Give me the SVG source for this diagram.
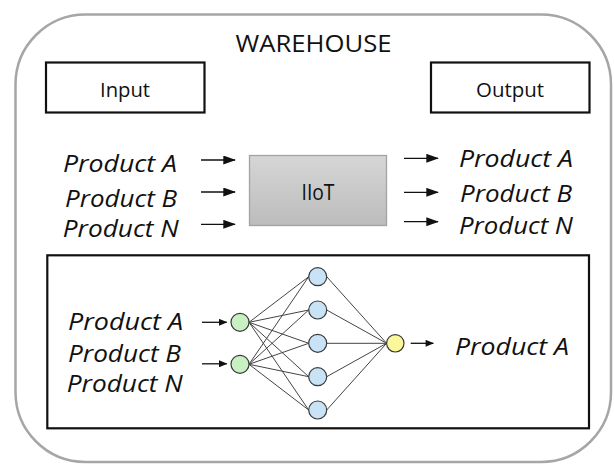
<svg xmlns="http://www.w3.org/2000/svg" width="614" height="464" viewBox="0 0 614 464">
  <defs>
    <style>
      .frame { fill: #ffffff; stroke: #a6a6a6; stroke-width: 2.5; }
      .box { fill: #ffffff; stroke: #111111; stroke-width: 2.2; }
      .label { font-family: "Open Sans", "Liberation Sans", sans-serif; fill: #111111; }
      .prod { font-family: "Open Sans", "Liberation Sans", sans-serif; font-style: italic; font-size: 23px; fill: #111111; }
      .flow { stroke: #111111; stroke-width: 1.3; fill: none; }
      .edge { stroke: #444444; stroke-width: 1; fill: none; }
      .node { stroke: #3a3a3a; stroke-width: 1.2; }
      .in { fill: #c8f0c2; }
      .hid { fill: #c8e3f6; }
      .out { fill: #fbf79a; }
    </style>
    <linearGradient id="iiotFill" x1="0" y1="0" x2="0" y2="1">
      <stop offset="0" stop-color="#d6d6d6"/>
      <stop offset="1" stop-color="#bcbcbc"/>
    </linearGradient>
    <marker id="head" viewBox="0 0 14 10" refX="13" refY="5" markerWidth="14" markerHeight="9" markerUnits="userSpaceOnUse" orient="auto">
      <path d="M0,0 L14,5 L0,10 z" fill="#111111"/>
    </marker>
    <marker id="headSm" viewBox="0 0 12 10" refX="11" refY="5" markerWidth="10" markerHeight="7" markerUnits="userSpaceOnUse" orient="auto">
      <path d="M0,0 L12,5 L0,10 z" fill="#111111"/>
    </marker>
  </defs>

  <!-- warehouse frame -->
  <g id="warehouse">
    <rect class="frame" x="15.5" y="14.5" width="595.5" height="447.5" rx="70" ry="70"/>
    <text class="label" x="313.5" y="52" font-size="24" text-anchor="middle" textLength="156" lengthAdjust="spacingAndGlyphs">WAREHOUSE</text>
  </g>

  <g id="input">
    <rect class="box" x="46" y="62.5" width="158.5" height="50"/>
    <text class="label" x="125" y="96.5" font-size="20" text-anchor="middle" textLength="50" lengthAdjust="spacingAndGlyphs">Input</text>
  </g>

  <g id="output">
    <rect class="box" x="431" y="62.5" width="158.5" height="50"/>
    <text class="label" x="510" y="97" font-size="20" text-anchor="middle" textLength="68" lengthAdjust="spacingAndGlyphs">Output</text>
  </g>

  <!-- products entering the warehouse -->
  <g id="products-in">
    <text class="prod" x="63" y="172.3" textLength="114" lengthAdjust="spacingAndGlyphs">Product A</text>
    <text class="prod" x="65" y="206.7" textLength="112" lengthAdjust="spacingAndGlyphs">Product B</text>
    <text class="prod" x="62.7" y="237.3" textLength="116" lengthAdjust="spacingAndGlyphs">Product N</text>
  </g>

  <g id="iiot">
    <rect x="249.5" y="155.5" width="137" height="70" fill="url(#iiotFill)" stroke="#a3a3a3" stroke-width="1.3"/>
    <text class="label" x="318" y="199.5" font-size="21" text-anchor="middle" textLength="33" lengthAdjust="spacingAndGlyphs">IIoT</text>
  </g>

  <!-- products leaving the warehouse -->
  <g id="products-out">
    <text class="prod" x="459" y="166.7" textLength="114" lengthAdjust="spacingAndGlyphs">Product A</text>
    <text class="prod" x="460" y="201.7" textLength="112" lengthAdjust="spacingAndGlyphs">Product B</text>
    <text class="prod" x="459" y="234" textLength="114" lengthAdjust="spacingAndGlyphs">Product N</text>
  </g>

  <!-- neural network panel -->
  <g id="nn-panel">
    <rect class="box" x="47.3" y="255.3" width="541.7" height="173" stroke-width="2.6"/>
    <text class="prod" x="68" y="329.5" textLength="115" lengthAdjust="spacingAndGlyphs">Product A</text>
    <text class="prod" x="68" y="361.5" textLength="113" lengthAdjust="spacingAndGlyphs">Product B</text>
    <text class="prod" x="66.7" y="392" textLength="116" lengthAdjust="spacingAndGlyphs">Product N</text>
    <text class="prod" x="455" y="355" textLength="114" lengthAdjust="spacingAndGlyphs">Product A</text>
  </g>

  <!-- connectors -->
  <g id="connectors">
    <line class="flow" x1="201" y1="160" x2="235" y2="160" marker-end="url(#head)"/>
    <line class="flow" x1="201" y1="192" x2="235" y2="192" marker-end="url(#head)"/>
    <line class="flow" x1="201" y1="224.3" x2="235" y2="224.3" marker-end="url(#head)"/>
    <line class="flow" x1="404" y1="158.3" x2="438" y2="158.3" marker-end="url(#head)"/>
    <line class="flow" x1="404" y1="192.3" x2="438" y2="192.3" marker-end="url(#head)"/>
    <line class="flow" x1="404" y1="221.7" x2="438" y2="221.7" marker-end="url(#head)"/>

    <line class="flow" x1="202" y1="322.3" x2="226.7" y2="322.3" marker-end="url(#headSm)"/>
    <line class="flow" x1="202" y1="363.8" x2="226.7" y2="363.8" marker-end="url(#headSm)"/>
    <line class="flow" x1="410.7" y1="343.3" x2="433.3" y2="343.3" marker-end="url(#headSm)"/>

    <!-- input layer to hidden layer -->
    <path class="edge" d="M249,322.3 L308.7,276.7 M249,322.3 L308.7,310 M249,322.3 L308.7,343.3 M249,322.3 L308.7,376.7 M249,322.3 L308.7,410
                          M249,364.3 L308.7,276.7 M249,364.3 L308.7,310 M249,364.3 L308.7,343.3 M249,364.3 L308.7,376.7 M249,364.3 L308.7,410"/>
    <!-- hidden layer to output node -->
    <path class="edge" d="M326.7,276.7 L386.6,343.3 M326.7,310 L386.6,343.3 M326.7,343.3 L386.6,343.3 M326.7,376.7 L386.6,343.3 M326.7,410 L386.6,343.3"/>
  </g>

  <g id="nn-in-1"><circle class="node in" cx="240" cy="322.3" r="9"/></g>
  <g id="nn-in-2"><circle class="node in" cx="240" cy="364.3" r="9"/></g>
  <g id="nn-hid-1"><circle class="node hid" cx="317.7" cy="276.7" r="9"/></g>
  <g id="nn-hid-2"><circle class="node hid" cx="317.7" cy="310" r="9"/></g>
  <g id="nn-hid-3"><circle class="node hid" cx="317.7" cy="343.3" r="9"/></g>
  <g id="nn-hid-4"><circle class="node hid" cx="317.7" cy="376.7" r="9"/></g>
  <g id="nn-hid-5"><circle class="node hid" cx="317.7" cy="410" r="9"/></g>
  <g id="nn-out"><circle class="node out" cx="395.3" cy="343.3" r="8.7"/></g>
</svg>
